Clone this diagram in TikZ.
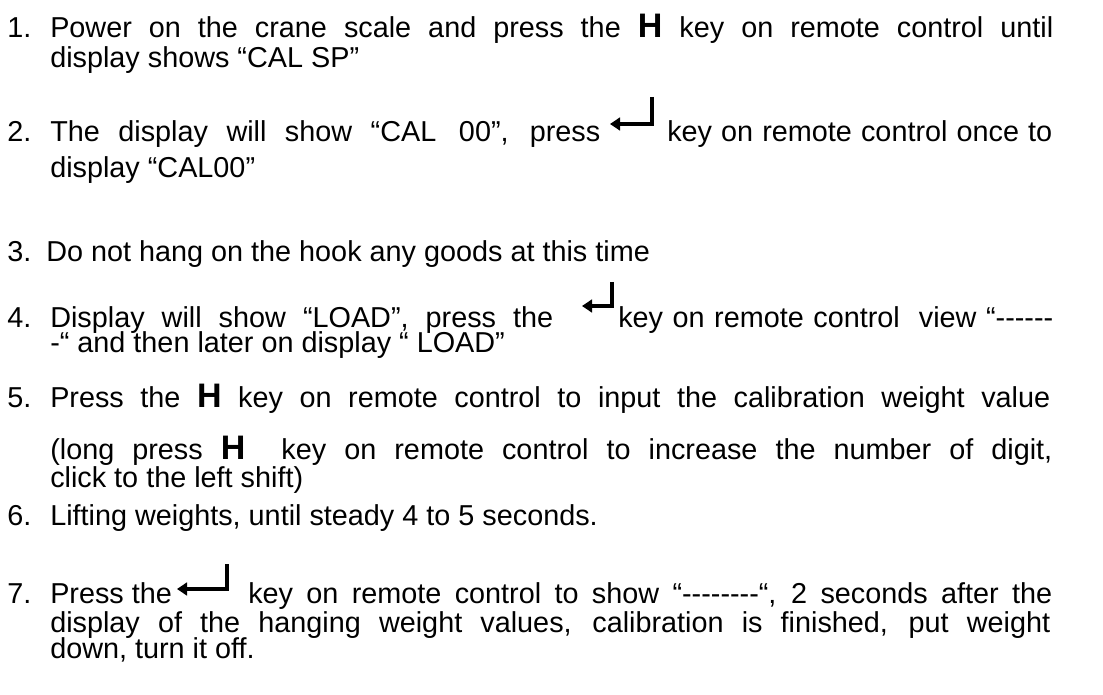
\documentclass[tikz,border=0pt]{standalone}
\usepackage{fontspec}
\setmainfont{Liberation Sans}
\usetikzlibrary{arrows.meta}
\newdimen\pxu \pxu=0.75pt
\newcommand{\hkey}{{\fontsize{25.5}{25.5}\selectfont\bfseries H}}
\newcommand{\hy}{\mbox{-}}
\newcommand{\js}[2]{\makebox[#1\pxu][s]{#2}}

\begin{document}
\begin{tikzpicture}[x=0.75pt, y=-0.75pt,
    txt/.style={anchor=base west, inner sep=0pt, font=\fontsize{21.6}{25}\selectfont},
    enter/.style={line width=2.4pt, -{Triangle[length=7.5pt,width=9.5pt]}}
]
    \useasboundingbox (0,0) rectangle (1103,695);
    % step 1
    \node[txt] (n1) at (7,38) {1.};
    \node[txt] (t1a) at (50,38) {\js{1003}{Power on the crane scale and press the \hkey\ key on remote control until}};
    \node[txt] (t1b) at (50,68) {display shows “CAL SP”};
    % step 2
    \node[txt] (n2) at (7,142) {2.};
    \node[txt] (t2a) at (50,142) {\js{550}{The display will show “CAL\hspace*{17pt}00”, press}};
    \node[txt] (t2b) at (667,142) {\js{385}{key on remote control once to}};
    \node[txt] (t2c) at (50,178) {display “CAL00”};
    \draw[enter] (652,97) -- (652,124) -- (610,124);
    % step 3
    \node[txt] (n3) at (7,262) {3.};
    \node[txt] (t3) at (46,262) {Do not hang on the hook any goods at this time};
    % step 4
    \node[txt] (n4) at (7,327) {4.};
    \node[txt] (t4a) at (50,327) {\js{503}{Display will show “LOAD”, press the}};
    \node[txt] (t4b) at (618,327) {\js{435}{key on remote control\ \ view “\hy\hy\hy\hy\hy\hy}};
    \node[txt] (t4c) at (50,353) {\hy“ and then later on display “ LOAD”};
    \draw[enter] (612,282) -- (612,306) -- (582,306);
    % step 5
    \node[txt] (n5) at (7,407) {5.};
    \node[txt] (t5a) at (50,407) {\js{1000}{Press the \hkey\ key on remote control to input the calibration weight value}};
    \node[txt] (t5b) at (50,459) {\js{1002}{(long press \hkey\ \ key on remote control to increase the number of digit,}};
    \node[txt] (t5c) at (50,487) {click to the left shift)};
    % step 6
    \node[txt] (n6) at (7,525) {6.};
    \node[txt] (t6) at (50,525) {Lifting weights, until steady 4 to 5 seconds.};
    % step 7
    \node[txt] (n7) at (7,603) {7.};
    \node[txt] (t7a) at (50,603) {Press the};
    \node[txt] (t7b) at (248,603) {\js{804}{key on remote control to show “\hy\hy\hy\hy\hy\hy\hy\hy“, 2 seconds after the}};
    \node[txt] (t7c) at (50,632) {\js{1000}{display of the hanging weight values, calibration is finished, put weight}};
    \node[txt] (t7d) at (50,658) {down, turn it off.};
    \draw[enter] (227,564) -- (227,589) -- (177,589);
\end{tikzpicture}
\end{document}
